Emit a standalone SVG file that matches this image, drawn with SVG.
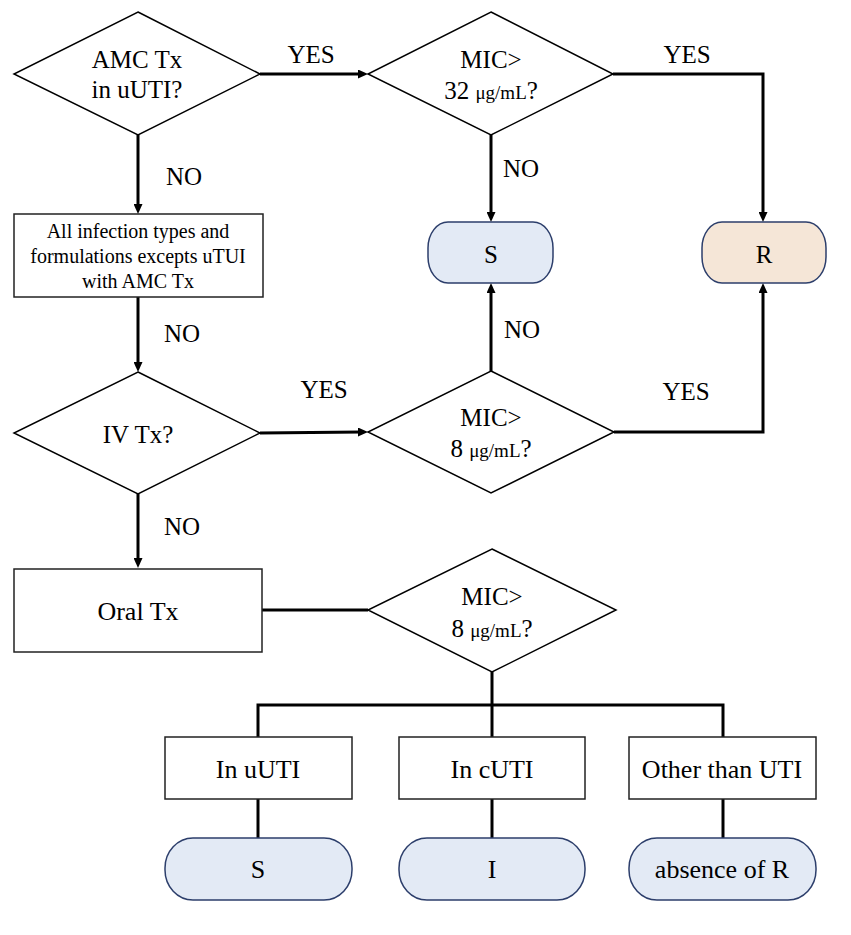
<svg xmlns="http://www.w3.org/2000/svg" width="851" height="935" viewBox="0 0 851 935">
<style>
text{font-family:"Liberation Serif","Times New Roman",serif;fill:#000;text-anchor:middle}
.t{font-size:25px}
.s{font-size:20px}
.b{font-size:26px}
.u{font-size:19px}
.dia{fill:#fff;stroke:#000;stroke-width:1.5}
.box{fill:#fff;stroke:#222;stroke-width:1.5}
.pill{fill:#e3eaf5;stroke:#2c3e6b;stroke-width:1.5}
.pillr{fill:#f5e6d7;stroke:#2c3e6b;stroke-width:1.5}
.c{fill:none;stroke:#000;stroke-width:3}
.ca{fill:none;stroke:#000;stroke-width:3;marker-end:url(#ah)}
</style>
<defs>
<marker id="ah" markerUnits="userSpaceOnUse" viewBox="0 0 10 9" markerWidth="10" markerHeight="9" refX="4" refY="4.5" orient="auto">
<path d="M0,0 L10,4.5 L0,9 z" fill="#000"/>
</marker>
</defs>
<rect width="851" height="935" fill="#fff"/>
<g id="connectors">
<path class="ca" d="M260,74 H362"/>
<path class="ca" d="M138,135 V208"/>
<path class="ca" d="M138,297 V366"/>
<path class="ca" d="M138,494 V562"/>
<path class="ca" d="M260,433 L362,432"/>
<path class="ca" d="M613,74 H763 V216"/>
<path class="ca" d="M491,135 V216"/>
<path class="ca" d="M491,371 V289"/>
<path class="ca" d="M614,432 H763 V289"/>
<path class="c" d="M262,610 H368"/>
<path class="c" d="M492,672 V737"/>
<path class="c" d="M258,737 V705 H723 V737"/>
<path class="c" d="M258,799 V838"/>
<path class="c" d="M492,799 V838"/>
<path class="c" d="M723,799 V838"/>
<text class="t" x="311" y="63">YES</text>
<text class="t" x="184" y="185">NO</text>
<text class="t" x="687" y="63">YES</text>
<text class="t" x="521" y="177">NO</text>
<text class="t" x="182" y="342">NO</text>
<text class="t" x="324" y="398">YES</text>
<text class="t" x="522" y="338">NO</text>
<text class="t" x="686" y="400">YES</text>
<text class="t" x="182" y="535">NO</text>
</g>
<g id="d1">
<polygon class="dia" points="138,12 260,74 138,135 14,74"/>
<text class="t" x="137" y="68">AMC Tx</text>
<text class="t" x="137" y="98">in uUTI?</text>
</g>
<g id="d2">
<polygon class="dia" points="491,12 613,74 491,135 368,74"/>
<text class="t" x="491" y="68">MIC&gt;</text>
<text class="t" x="491" y="99">32 <tspan class="u">μg/mL</tspan>?</text>
</g>
<g id="box1">
<rect class="box" x="14" y="214" width="249" height="83"/>
<text class="s" x="138" y="238">All infection types and</text>
<text class="s" x="138" y="263">formulations excepts uTUI</text>
<text class="s" x="138" y="288">with AMC Tx</text>
</g>
<g id="s1">
<rect class="pill" x="428" y="222" width="125" height="61" rx="20" ry="26"/>
<text class="t" x="491" y="263">S</text>
</g>
<g id="r1">
<rect class="pillr" x="702" y="222" width="124" height="61" rx="20" ry="26"/>
<text class="t" x="764" y="263">R</text>
</g>
<g id="d3">
<polygon class="dia" points="138,372 260,433 138,494 14,433"/>
<text class="t" x="138" y="443">IV Tx?</text>
</g>
<g id="d4">
<polygon class="dia" points="491,371 614,432 491,493 368,432"/>
<text class="t" x="491" y="426">MIC&gt;</text>
<text class="t" x="491" y="457">8 <tspan class="u">μg/mL</tspan>?</text>
</g>
<g id="oral">
<rect class="box" x="14" y="569" width="248" height="83"/>
<text class="b" x="138" y="620">Oral Tx</text>
</g>
<g id="d5">
<polygon class="dia" points="492,549 616,610 492,672 368,610"/>
<text class="t" x="492" y="605">MIC&gt;</text>
<text class="t" x="492" y="637">8 <tspan class="u">μg/mL</tspan>?</text>
</g>
<g id="uuti">
<rect class="box" x="165" y="737" width="187" height="62"/>
<text class="b" x="258" y="778">In uUTI</text>
</g>
<g id="cuti">
<rect class="box" x="399" y="737" width="186" height="62"/>
<text class="b" x="492" y="778">In cUTI</text>
</g>
<g id="other">
<rect class="box" x="629" y="737" width="187" height="62"/>
<text class="b" x="722" y="778">Other than UTI</text>
</g>
<g id="s2">
<rect class="pill" x="165" y="838" width="187" height="62" rx="28" ry="30"/>
<text class="b" x="258" y="878">S</text>
</g>
<g id="i2">
<rect class="pill" x="399" y="838" width="186" height="62" rx="28" ry="30"/>
<text class="b" x="492" y="878">I</text>
</g>
<g id="abs">
<rect class="pill" x="629" y="838" width="187" height="62" rx="28" ry="30"/>
<text class="b" x="722" y="878">absence of R</text>
</g>
</svg>
